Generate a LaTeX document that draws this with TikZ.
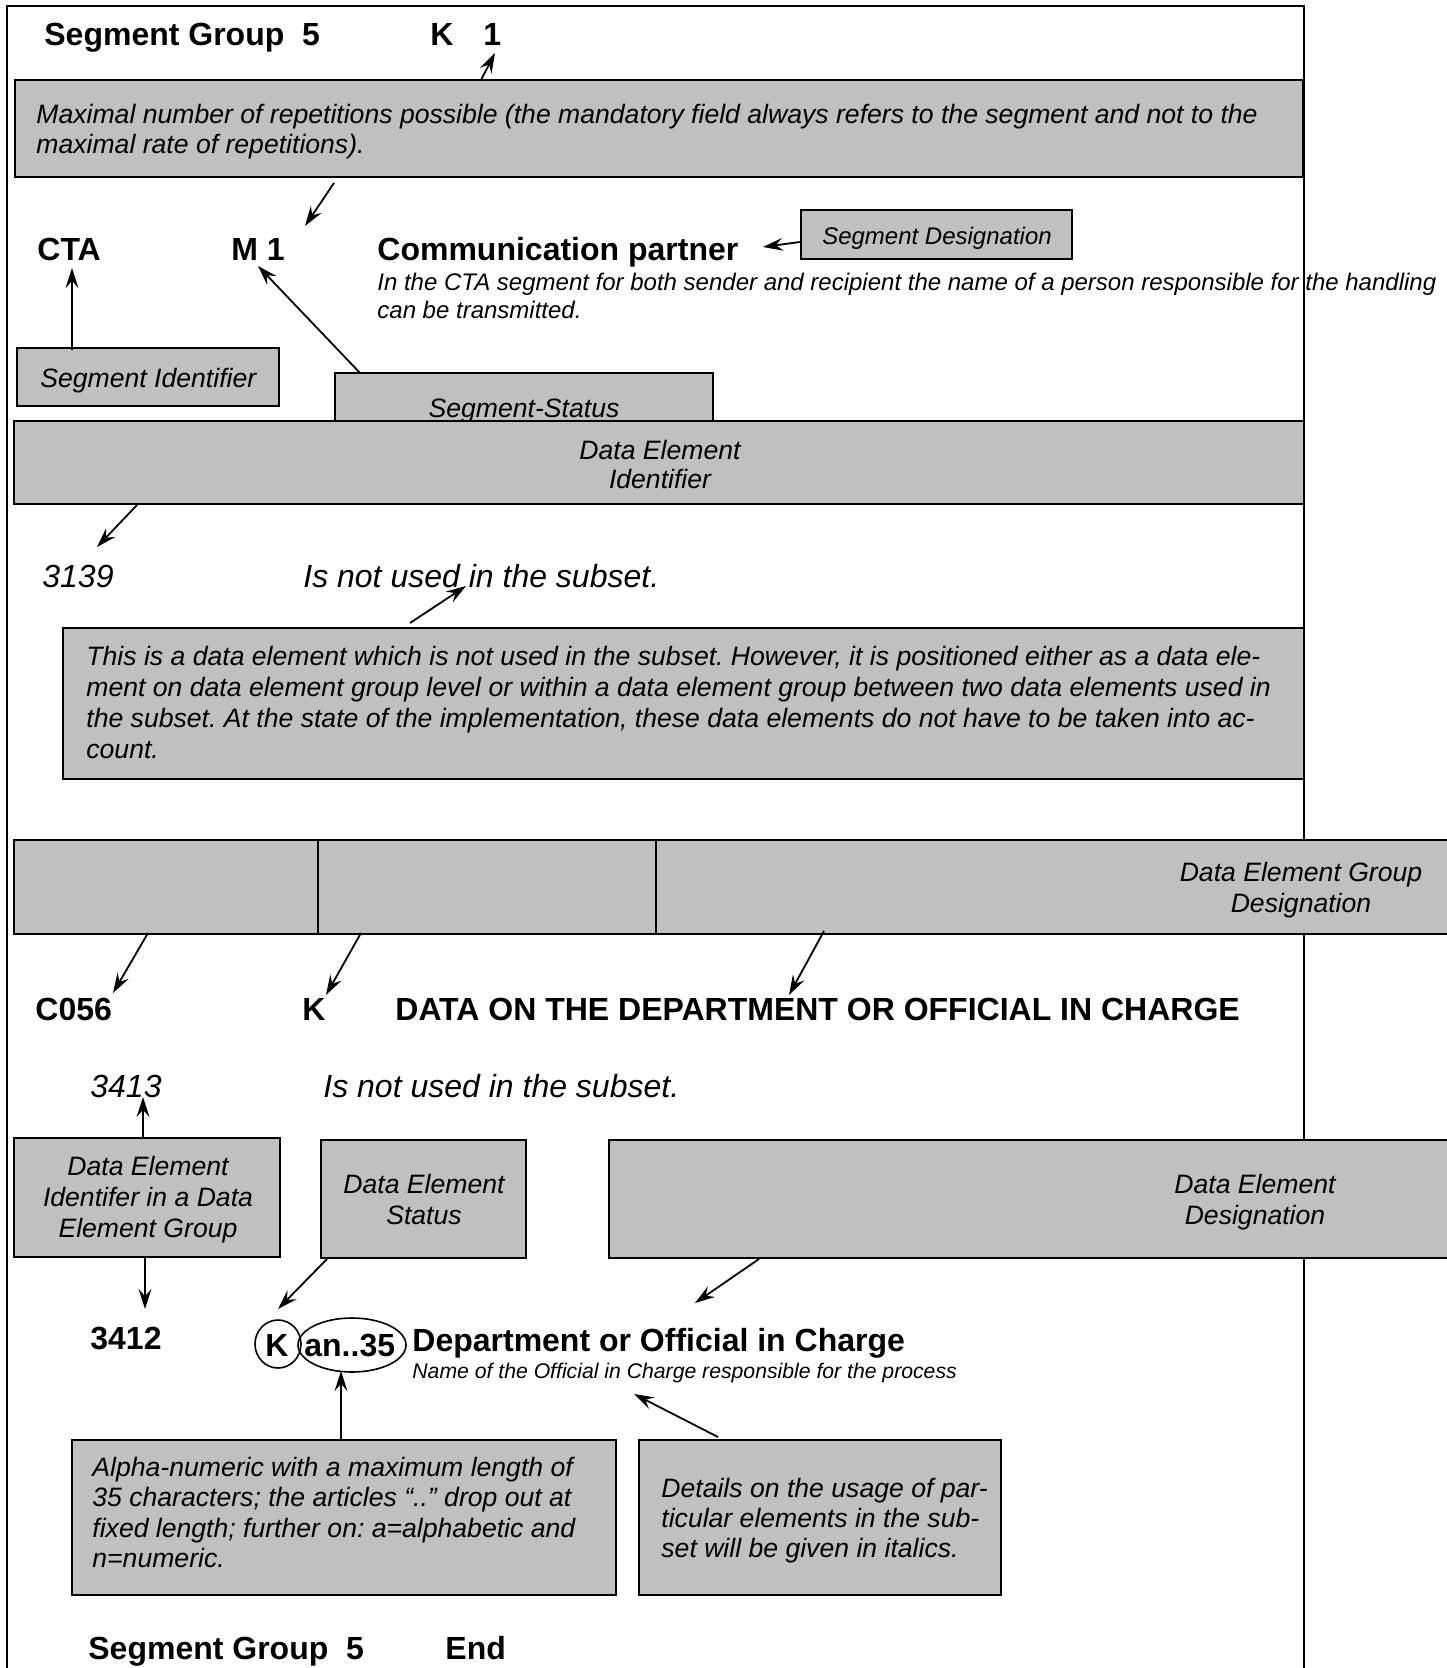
\documentclass[tikz,border=0pt]{standalone}
\usepackage{fontspec}
\setmainfont{Liberation Sans}
\frenchspacing
\usetikzlibrary{arrows.meta,shapes.geometric}
\definecolor{boxgray}{RGB}{192,192,192}
\newcommand\grbox[5]{\node[gbox, anchor=north west, minimum width={(#4-#2)*0.5pt}, minimum height={(#5-#3)*0.5pt}] (#1) at (#2,#3) {};}
\tikzset{
  gbox/.style={draw=black, fill=boxgray, line width=1.2pt, inner sep=0pt, outer sep=0pt},
  arr/.style={-{Stealth[length=10pt,width=6.4pt,inset=3.6pt]}, line width=0.9pt},
  hd/.style={anchor=base west, inner sep=0pt, font=\fontsize{16}{19}\selectfont\bfseries\frenchspacing},
  hdi/.style={anchor=base west, inner sep=0pt, font=\fontsize{16}{19}\selectfont\itshape\frenchspacing},
  bt/.style={anchor=base west, inner sep=0pt, font=\fontsize{13.3}{15}\selectfont\itshape\frenchspacing},
  btc/.style={anchor=base, inner sep=0pt, font=\fontsize{13.3}{15}\selectfont\itshape},
  st/.style={anchor=base west, inner sep=0pt, font=\fontsize{12}{14}\selectfont\itshape\frenchspacing},
  stc/.style={anchor=base, inner sep=0pt, font=\fontsize{12}{14}\selectfont\itshape},
  ov/.style={draw=black, ellipse, line width=0.8pt, inner sep=0pt}
}
\begin{document}
\begin{tikzpicture}[x=0.5pt,y=-0.5pt]
\useasboundingbox (0,0) rectangle (1446,1668);
% frame
\draw[line width=0.8pt] (7,1668) -- (7,6) -- (1304,6) -- (1304,1668);

% header
\node[hd] (sg1) at (44,46) {Segment Group~~5};
\node[hd] (k1K) at (430,46) {K};
\node[hd] (k1one) at (483,46) {1};

% box 1
\grbox{box1}{15}{80}{1303}{177}
\node[bt] (b1l1) at (36,124) {Maximal number of repetitions possible (the mandatory field always refers to the segment and not to the};
\node[bt] (b1l2) at (36,154) {maximal rate of repetitions).};
\coordinate (a1s) at (481,80); \coordinate (a1e) at (495,53);
\draw[arr] (a1s) -- (a1e);
\coordinate (a2s) at (334,183); \coordinate (a2e) at (305,226);
\draw[arr] (a2s) -- (a2e);

% CTA row
\node[hd] (cta) at (37,261) {CTA};
\node[hd] (m1) at (231,261) {M 1};
\node[hd] (comm) at (377,261) {Communication partner};
\node[st] (ctas1) at (377,291) {In the CTA segment for both sender and recipient the name of a person responsible for the handling};
\node[st] (ctas2) at (377,319) {can be transmitted.};

\grbox{segdes}{801}{210}{1072}{259}
\node[stc] (segdest) at (937,245) {Segment Designation};
\coordinate (a3s) at (800,242); \coordinate (a3e) at (763,247);
\draw[arr] (a3s) -- (a3e);

\grbox{segid}{17}{348}{279}{406}
\node[bt] (segidt) at (40,388) {Segment Identifier};
\coordinate (a4s) at (72,350); \coordinate (a4e) at (72,268);
\draw[arr] (a4s) -- (a4e);

\grbox{segst}{335}{373}{713}{430}
\node[btc] (segstt) at (524,417) {Segment-Status};
\coordinate (a5s) at (360,373); \coordinate (a5e) at (258,266);
\draw[arr] (a5s) -- (a5e);

\grbox{dei}{14}{421}{1304}{504}
\node[btc] (deit1) at (660,459) {Data Element};
\node[btc] (deit2) at (660,488) {Identifier};
\coordinate (a6s) at (137,505); \coordinate (a6e) at (97,547);
\draw[arr] (a6s) -- (a6e);

% 3139
\node[hdi] (n3139) at (42,587) {3139};
\node[hdi] (nu1) at (303,587) {Is not used in the subset.};
\coordinate (a7s) at (410,623); \coordinate (a7e) at (466,586);
\draw[arr] (a7s) -- (a7e);

\grbox{box2}{63}{628}{1304}{779}
\node[bt] (b2l1) at (86,665) {This is a data element which is not used in the subset. However, it is positioned either as a data ele-};
\node[bt] (b2l2) at (86,696) {ment on data element group level or within a data element group between two data elements used in};
\node[bt] (b2l3) at (86,727) {the subset. At the state of the implementation, these data elements do not have to be taken into ac-};
\node[bt] (b2l4) at (86,758) {count.};

% data element group row
\grbox{degc}{318}{840}{656}{934}
\grbox{dega}{14}{840}{318}{934}
\grbox{degb}{656}{840}{1452}{934}
\node[btc] (degt1) at (1301,881) {Data Element Group};
\node[btc] (degt2) at (1301,912) {Designation};
\coordinate (a8s) at (148,933); \coordinate (a8e) at (113,993);
\draw[arr] (a8s) -- (a8e);
\coordinate (a9s) at (361,933); \coordinate (a9e) at (326,995);
\draw[arr] (a9s) -- (a9e);
\coordinate (a10s) at (824,931); \coordinate (a10e) at (789,995);
\draw[arr] (a10s) -- (a10e);

\node[hd] (c056) at (35,1020) {C056};
\node[hd] (kc) at (302,1020) {K};
\node[hd] (dataon) at (395,1020) {DATA ON THE DEPARTMENT OR OFFICIAL IN CHARGE};

\node[hdi] (n3413) at (90,1097) {3413};
\node[hdi] (nu2) at (323,1097) {Is not used in the subset.};

% element boxes
\grbox{deig}{14}{1138}{280}{1257}
\node[btc] (deigt1) at (148,1175) {Data Element};
\node[btc] (deigt2) at (148,1206) {Identifer in a Data};
\node[btc] (deigt3) at (148,1237) {Element Group};
\coordinate (a11s) at (143,1138); \coordinate (a11e) at (143,1097);
\draw[arr] (a11s) -- (a11e);
\coordinate (a12s) at (145,1257); \coordinate (a12e) at (145,1309);
\draw[arr] (a12s) -- (a12e);

\grbox{des}{321}{1140}{526}{1258}
\node[btc] (dest1) at (424,1193) {Data Element};
\node[btc] (dest2) at (424,1224) {Status};
\coordinate (a13s) at (327,1259); \coordinate (a13e) at (278,1309);
\draw[arr] (a13s) -- (a13e);

\grbox{ded}{609}{1140}{1452}{1258}
\node[btc] (dedt1) at (1255,1193) {Data Element};
\node[btc] (dedt2) at (1255,1224) {Designation};
\coordinate (a14s) at (759,1259); \coordinate (a14e) at (695,1303);
\draw[arr] (a14s) -- (a14e);

% 3412 line
\node[hd] (n3412) at (90,1349) {3412};
\node[hd] (kk) at (265,1356) {K};
\node[hd] (an35) at (304,1356) {an..35};
\node[ov, minimum width=23pt, minimum height=24pt] (ovK) at (278,1344) {};
\node[ov, minimum width=54pt, minimum height=27pt] (ovAn) at (352,1345) {};
\node[hd] (dept) at (412,1351) {Department or Official in Charge};
\node[anchor=base west, inner sep=0pt, font=\fontsize{10.6}{12}\selectfont\itshape] (namet) at (412,1378) {Name of the Official in Charge responsible for the process};

\grbox{alpha}{72}{1440}{616}{1595}
\node[bt] (al1) at (92,1476) {Alpha-numeric with a maximum length of};
\node[bt] (al2) at (92,1506) {35 characters; the articles “..” drop out at};
\node[bt] (al3) at (92,1537) {fixed length; further on: a=alphabetic and};
\node[bt] (al4) at (92,1567) {n=numeric.};
\coordinate (a15s) at (341,1440); \coordinate (a15e) at (341,1371);
\draw[arr] (a15s) -- (a15e);

\grbox{det}{639}{1440}{1001}{1595}
\node[bt] (dt1) at (661,1497) {Details on the usage of par-};
\node[bt] (dt2) at (661,1527) {ticular elements in the sub-};
\node[bt] (dt3) at (661,1557) {set will be given in italics.};
\coordinate (a16s) at (718,1437); \coordinate (a16e) at (634,1394);
\draw[arr] (a16s) -- (a16e);

\node[hd] (sgend) at (88,1659) {Segment Group~~5};
\node[hd] (endt) at (445,1659) {End};
\end{tikzpicture}
\end{document}
